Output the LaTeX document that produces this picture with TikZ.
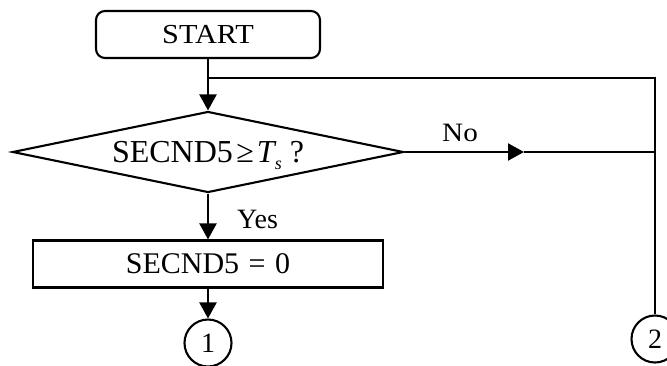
\documentclass[tikz,border=0pt]{standalone}
\usepackage{fontspec}
\usepackage{graphicx}
\setmainfont{Liberation Serif}
\usetikzlibrary{shapes.geometric,arrows.meta}
\tikzset{
  every node/.style={font=\fontsize{26.5}{30}\selectfont},
  ln/.style={line width=2.1pt},
  arr/.style={ln,-{Triangle[length=16pt,width=17pt]}},
  boxst/.style={draw,ln,minimum width=350pt,minimum height=47pt,inner sep=0pt,text depth=0pt},
  conn/.style={draw,ln,circle,minimum size=47pt,inner sep=0pt},
  lbl/.style={inner sep=0pt,anchor=base west},
}
\begin{document}
\begin{tikzpicture}[x=1pt,y=-1pt]
\useasboundingbox (0,0) rectangle (667,365);
\node[boxst,rounded corners=9pt,minimum width=224pt,font=\fontsize{27.5}{31}\selectfont] (start) at (208,34.5) {\scalebox{1.1}[1]{START}};
\coordinate (j) at (208,78);
\coordinate (r1) at (655,78);
\node[draw,ln,diamond,shape aspect=4.8,inner sep=0pt,text depth=0pt,minimum width=391pt,minimum height=81pt,font=\fontsize{32}{36}\selectfont] (dec) at (208,152)
  {SECND5\hspace{3.5pt}≥\hspace{3pt}{\itshape T}\raisebox{-0.45ex}{\fontsize{18}{20}\selectfont\itshape s}\hspace{8pt}?};
\coordinate (m) at (524,152);
\coordinate (r2) at (655,152);
\node[boxst,font=\fontsize{30}{34}\selectfont] (set) at (208,264) {SECND5\hspace{2pt} = \hspace{2pt}0};
\node[conn,font=\fontsize{28}{32}\selectfont] (c1) at (208,343) {1};
\node[conn,font=\fontsize{28}{32}\selectfont] (c2) at (655,339) {2};
\node[lbl,font=\fontsize{26.5}{30}\selectfont] (no) at (442,141) {\scalebox{1.1}[1]{No}};
\node[lbl,font=\fontsize{28}{32}\selectfont] (yes) at (237,228) {Yes};
\draw[arr] (start.south) -- (dec.north);
\draw[ln] (j) -- (r1) -- (c2.north);
\draw[arr] (dec.east) -- (m);
\draw[ln] (m) -- (r2);
\draw[arr] (dec.south) -- (set.north);
\draw[arr] (set.south) -- (c1.north);
\end{tikzpicture}
\end{document}
